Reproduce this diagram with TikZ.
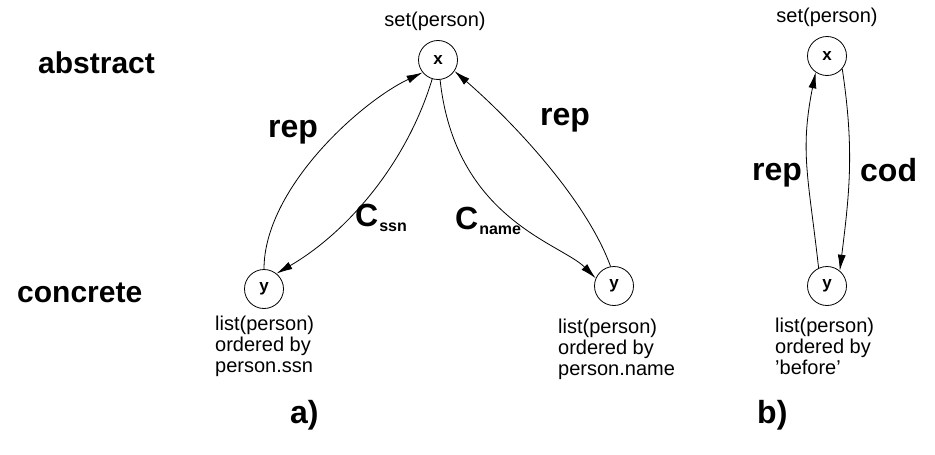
\documentclass[tikz,border=0pt]{standalone}
\usepackage{fontspec}
\setmainfont{Liberation Sans}
\usetikzlibrary{arrows.meta}
\begin{document}
\begin{tikzpicture}[x=1pt,y=1pt,
  state/.style={circle,draw,line width=0.8pt,minimum size=39pt,inner sep=0pt,font=\fontsize{17}{17}\selectfont\bfseries},
  big/.style={font=\fontsize{32}{32}\selectfont\bfseries,inner sep=0pt},
  side/.style={font=\fontsize{30}{30}\selectfont\bfseries,inner sep=0pt},
  small/.style={font=\fontsize{20}{21}\selectfont,align=left,inner sep=0pt},
  arr/.style={line width=0.8pt,-{Latex[length=16pt,width=8pt]}}]
\useasboundingbox (0,0) rectangle (935,-455);
% a)
\node[state] (x1) at (438,-60) {x};
\node[state] (yL) at (264,-289) {y};
\node[state] (yR) at (614,-286) {y};
\node[small] (t1) at (435,-21) {set(person)};
\node[small,anchor=north west] (lL) at (215,-316) {list(person)\\ordered by\\person.ssn};
\node[small,anchor=north west] (lR) at (558,-319) {list(person)\\ordered by\\person.name};
\draw[arr] (yL.90) .. controls +(0,80) and +(-63,-30) .. (x1.219);
\draw[arr] (x1.-107) .. controls +(-26,-86) and +(69,40) .. (yL.51);
\draw[arr] (x1.-84) .. controls +(15,-139) and +(-35,35) .. (yR.157);
\draw[arr] (yR.100) .. controls +(-24,66) and +(60,-52) .. (x1.-34);
\node[big,anchor=base west] (r1) at (268,-137) {rep};
\node[big,anchor=base west] (r2) at (540,-125) {rep};
\node[big,anchor=base west] (c1) at (355,-226) {C\hspace{1pt}\raisebox{-5pt}{\fontsize{16}{16}\selectfont ssn}};
\node[big,anchor=base west] (c2) at (455,-229) {C\hspace{1pt}\raisebox{-5pt}{\fontsize{16}{16}\selectfont name}};
% b)
\node[state] (xb) at (827,-56) {x};
\node[state] (yb) at (827,-286) {y};
\node[small] (t2) at (827,-17) {set(person)};
\node[small,anchor=north west] (lb) at (775,-318) {list(person)\\ordered by\\'before'};
\draw[arr] (yb.115) .. controls +(-10,90) and +(-16,-80) .. (xb.235);
\draw[arr] (xb.-40) .. controls +(12,-80) and +(10,80) .. (yb.50);
\node[big,anchor=base west] (r3) at (752,-180) {rep};
\node[big,anchor=base west] (cd) at (860,-181) {cod};
% side labels
\node[side,anchor=base west] (ab) at (38,-73) {abstract};
\node[side,anchor=base west] (co) at (17,-302) {concrete};
\node[big,anchor=base west] (la) at (290,-423) {a)};
\node[big,anchor=base west] (lbb) at (757,-423) {b)};
\end{tikzpicture}
\end{document}
